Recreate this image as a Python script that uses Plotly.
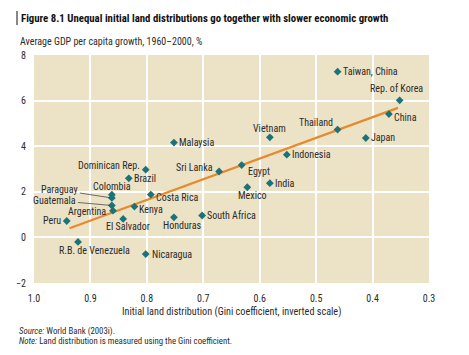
import plotly.graph_objects as go

# ---- data ----
countries = ["Taiwan, China", "Rep. of Korea", "China", "Thailand", "Japan",
             "Vietnam", "Indonesia", "Egypt", "India", "Mexico", "Malaysia",
             "Sri Lanka", "Dominican Rep.", "Brazil", "Colombia", "Paraguay",
             "Guatemala", "Argentina", "Costa Rica", "Kenya", "Peru",
             "El Salvador", "Honduras", "South Africa", "R.B. de Venezuela",
             "Nicaragua"]
gini = [0.462, 0.352, 0.371, 0.462, 0.412,
        0.582, 0.552, 0.632, 0.582, 0.622, 0.752,
        0.672, 0.802, 0.832, 0.862, 0.862,
        0.862, 0.860, 0.793, 0.822, 0.942,
        0.842, 0.752, 0.702, 0.922,
        0.802]
growth = [7.27, 6.01, 5.41, 4.73, 4.36,
          4.39, 3.63, 3.17, 2.38, 2.20, 4.16,
          2.89, 2.97, 2.59, 1.87, 1.73,
          1.40, 1.17, 1.88, 1.35, 0.72,
          0.81, 0.88, 0.96, -0.20,
          -0.73]
trend_x = [0.937, 0.355]
trend_y = [0.40, 5.68]
x_ticks = [1.0, 0.9, 0.8, 0.7, 0.6, 0.5, 0.4, 0.3]
y_ticks = [-2, 0, 2, 4, 6, 8]

# ---- label placement (style) ----
# (xanchor, xshift, yshift, arrow ax, arrow ay)
place = {
    "Taiwan, China": ("left", 3, 0, None, None),
    "Rep. of Korea": ("center", -3, 12, None, None),
    "China": ("left", 3, -3, None, None),
    "Thailand": ("right", -3, 7, None, None),
    "Japan": ("left", 3, 0, None, None),
    "Vietnam": ("center", 0, 9, None, None),
    "Indonesia": ("left", 3, 0, None, None),
    "Egypt": ("left", 4, -6, None, None),
    "India": ("left", 3, 0, None, None),
    "Mexico": ("center", 5, -8, None, None),
    "Malaysia": ("left", 3, 0, None, None),
    "Sri Lanka": ("right", -4, 4, None, None),
    "Dominican Rep.": ("right", -4, 4, None, None),
    "Brazil": ("left", 3, 0, None, None),
    "Colombia": ("center", 0, 8, None, None),
    "Paraguay": (None, 0, 0, -52, -8),
    "Guatemala": (None, 0, 0, -57, -5),
    "Argentina": ("right", -5, -1, None, None),
    "Costa Rica": ("left", 3, -3, None, None),
    "Kenya": ("left", 3, -3, None, None),
    "Peru": ("right", -4, 0, None, None),
    "El Salvador": ("center", 5, -8, None, None),
    "Honduras": ("center", 9, -8, None, None),
    "South Africa": ("left", 3, 0, None, None),
    "R.B. de Venezuela": ("left", -21, -9, None, None),
    "Nicaragua": ("left", 4, 0, None, None),
}

FONT = ("Roboto Condensed, Noto Sans Condensed, Liberation Sans Narrow, "
        "DejaVu Sans Condensed, sans-serif")
TXT = "#2b2b2b"
L, R, T, B = 34, 40, 55, 72
W, H = 469, 355
pw, ph = W - L - R, H - T - B


def px(x):
    return (x - L) / pw


def py(y):
    return (H - B - y) / ph


fig = go.Figure()
fig.add_trace(go.Scatter(x=trend_x, y=trend_y, mode="lines",
                         line=dict(color="#E8892C", width=2.2),
                         hoverinfo="skip", showlegend=False))
fig.add_trace(go.Scatter(x=gini, y=growth, mode="markers",
                         marker=dict(symbol="diamond", size=6, color="#1B7378"),
                         text=countries, showlegend=False))

LAB = dict(family=FONT, size=10, color=TXT)
annotations = []
for c, xv, yv in zip(countries, gini, growth):
    xa, xs, ys, ax, ay = place[c]
    if ax is not None:
        annotations.append(dict(x=xv, y=yv, text=c, showarrow=True, arrowhead=0,
                                arrowwidth=0.7, arrowcolor="#333", ax=ax, ay=ay,
                                font=LAB, standoff=2))
    else:
        annotations.append(dict(x=xv, y=yv, text=c, showarrow=False, xanchor=xa,
                                xshift=xs, yshift=ys, font=LAB))

annotations += [
    dict(xref="paper", yref="paper", x=px(19), y=py(18), xanchor="left", yanchor="middle",
         text="<b>Figure 8.1 Unequal initial land distributions go together with slower economic growth</b>",
         showarrow=False, font=dict(family=FONT, size=10.8, color="#111")),
    dict(xref="paper", yref="paper", x=px(18), y=py(42), xanchor="left", yanchor="middle",
         text="Average GDP per capita growth, 1960\u20132000, %",
         showarrow=False, font=dict(family=FONT, size=10, color=TXT)),
    dict(xref="paper", yref="paper", x=0.5, y=py(312), xanchor="center", yanchor="middle",
         text="Initial land distribution (Gini coefficient, inverted scale)",
         showarrow=False, font=dict(family=FONT, size=10.2, color=TXT)),
    dict(xref="paper", yref="paper", x=px(17), y=py(331), xanchor="left", yanchor="middle",
         text="<i>Source:</i> World Bank (2003i).",
         showarrow=False, font=dict(family=FONT, size=8.8, color=TXT)),
    dict(xref="paper", yref="paper", x=px(17), y=py(341), xanchor="left", yanchor="middle",
         text="<i>Note:</i> Land distribution is measured using the Gini coefficient.",
         showarrow=False, font=dict(family=FONT, size=8.8, color=TXT)),
]

fig.update_layout(
    width=W, height=H, margin=dict(l=L, r=R, t=T, b=B, autoexpand=False),
    paper_bgcolor="white", plot_bgcolor="#ECE2C6",
    font=dict(family=FONT, size=10, color=TXT),
    annotations=annotations,
    shapes=[dict(type="line", xref="paper", yref="paper", x0=px(17), x1=px(17),
                 y0=py(11), y1=py(25), line=dict(color="#111", width=1))],
    showlegend=False,
)
fig.update_xaxes(range=[1.0, 0.3], tickvals=x_ticks, tickformat=".1f",
                 automargin=False,
                 showgrid=True, gridcolor="white", gridwidth=1.5, zeroline=False,
                 showline=False, ticks="outside", ticklen=6, tickcolor="rgba(0,0,0,0)",
                 tickfont=dict(family=FONT, size=10, color=TXT))
fig.update_yaxes(range=[-2, 8], tickvals=y_ticks, automargin=False,
                 showgrid=True, gridcolor="white", gridwidth=1.5, zeroline=False,
                 showline=False, ticks="outside", ticklen=5, tickcolor="rgba(0,0,0,0)",
                 tickfont=dict(family=FONT, size=10, color=TXT))

fig.write_html("out.html", config={"displayModeBar": False},
               post_script="document.body.style.margin='0';document.body.style.padding='0';")
